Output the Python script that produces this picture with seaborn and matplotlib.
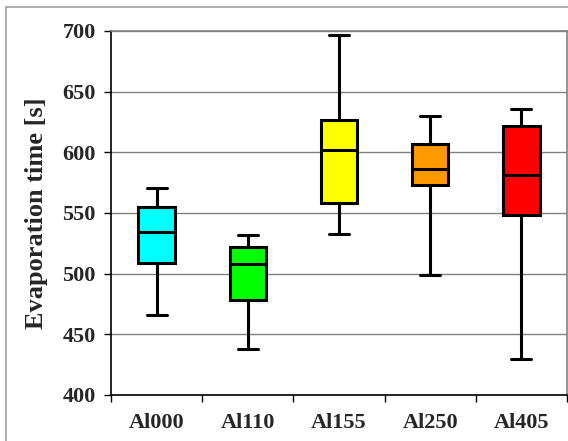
import numpy as np
import pandas as pd
import seaborn as sns
import matplotlib
matplotlib.use("Agg")
import matplotlib.pyplot as plt
from matplotlib.patches import Rectangle

# Five-number summaries: min, Q1, median, Q3, max
categories = ["Al000", "Al110", "Al155", "Al250", "Al405"]
al000 = [466, 509, 534, 555, 571]
al110 = [438, 478, 508, 522, 532]
al155 = [533, 558, 602, 627, 697]
al250 = [499, 573, 586, 607, 630]
al405 = [430, 548, 581, 622, 636]
colors = ["#00ffff", "#00ff00", "#ffff00", "#ff9900", "#ff0000"]
y_ticks = [400, 450, 500, 550, 600, 650, 700]

series = [al000, al110, al155, al250, al405]
df = pd.DataFrame({
    "sample": [c for c, vals in zip(categories, series) for _ in vals],
    "time": [v for vals in series for v in vals],
})

sns.set_theme(style="white")
plt.rcParams["font.family"] = ["Liberation Serif", "DejaVu Serif"]

fig = plt.figure(figsize=(5.68, 4.41), dpi=100)
ax = fig.add_axes([111 / 568, 1 - 395 / 441, (567 - 111) / 568, (395 - 31) / 441])

# outer frame
fig.patches.append(Rectangle((6 / 568, -0.1), 1.2, (441 - 7) / 441 + 0.1,
                             transform=fig.transFigure, fill=False,
                             edgecolor="#a0a0a0", linewidth=1.2, zorder=0))

sns.boxplot(data=df, x="sample", y="time", hue="sample", palette=colors,
            order=categories, hue_order=categories, legend=False,
            whis=(0, 100), width=0.4, linecolor="black", linewidth=2.2,
            saturation=1, showfliers=False, ax=ax, zorder=3)

# shorten caps
for line in ax.lines:
    xd = np.asarray(line.get_xdata(), dtype=float)
    yd = np.asarray(line.get_ydata(), dtype=float)
    if len(xd) == 2 and yd[0] == yd[1] and xd[0] != xd[1]:
        c = xd.mean()
        half = abs(xd[1] - xd[0]) / 2
        if half < 0.19:
            line.set_xdata([c - 0.11, c + 0.11])

ax.set_ylim(400, 700)
ax.set_xlim(-0.5, len(categories) - 0.5)
ax.set_yticks(y_ticks)
ax.set_yticklabels([str(t) for t in y_ticks], fontsize=16, fontweight="bold")
ax.yaxis.grid(True, color="#808080", linewidth=1.0, zorder=0)
ax.set_axisbelow(True)

# category boundary ticks and centered labels
ax.set_xticks(np.arange(len(categories) + 1) - 0.5)
ax.set_xticklabels([])
ax.set_xticks(np.arange(len(categories)), minor=True)
ax.set_xticklabels(categories, minor=True, fontsize=16, fontweight="bold")
ax.tick_params(axis="x", which="major", direction="out", length=5, width=1, color="black", bottom=True)
ax.tick_params(axis="x", which="minor", length=0, pad=13)
ax.tick_params(axis="y", direction="out", length=5, width=1, color="black", left=True, pad=6)

ax.set_xlabel("")
ax.set_ylabel("Evaporation time [s]", fontsize=19, fontweight="bold", labelpad=10)

for side in ["left", "bottom"]:
    ax.spines[side].set_color("black")
    ax.spines[side].set_linewidth(1.2)
for side in ["top", "right"]:
    ax.spines[side].set_color("#808080")
    ax.spines[side].set_linewidth(1.2)

fig.savefig("out.png", dpi=100)
